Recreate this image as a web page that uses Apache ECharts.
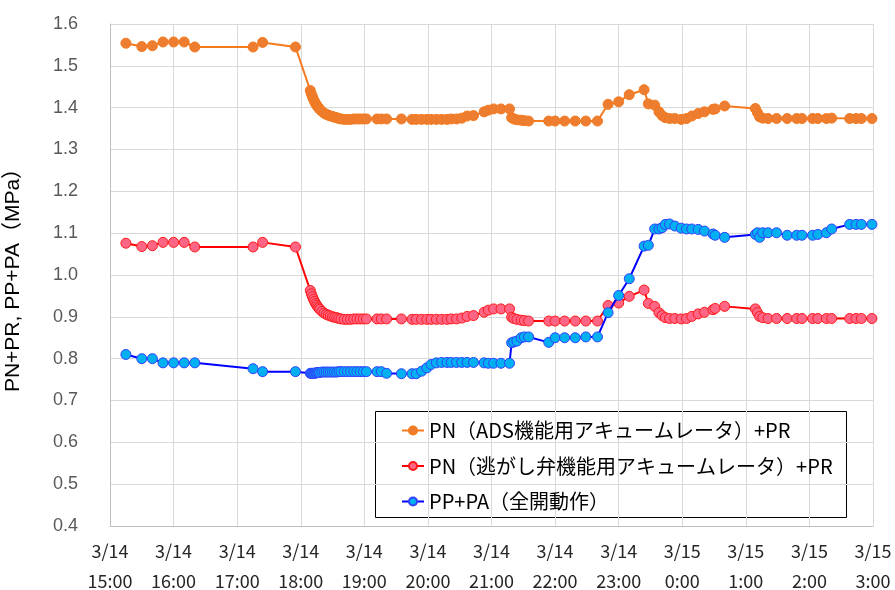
<!DOCTYPE html>
<html>
<head>
<meta charset="utf-8">
<script src="https://cdn.jsdelivr.net/npm/echarts@6/dist/echarts.min.js"></script>
<style>
html,body{margin:0;padding:0;background:#fff;}
#chart{width:895px;height:590px;}
</style>
</head>
<body>
<div id="chart"></div>
<script>
// Minutes after 3/14 15:00
const timesMin = [
  15, 30, 40, 50, 60, 70, 80, 135, 144, 175,
  189, 190, 191, 192, 193, 194, 195, 196, 197, 198, 200, 202, 204, 206, 208, 210, 212, 214, 216, 218,
  221, 224, 227, 230, 233, 236, 239, 242, 252, 256, 261, 275, 285, 289, 294, 299, 303, 308, 313, 318, 322, 327, 332,
  337, 343, 353, 357, 362, 369, 377, 379, 381, 384, 388, 391, 395, 414, 420, 429, 439, 449, 460,
  470, 480, 490, 504, 508, 514, 518, 521, 524, 528, 533, 539, 544, 549, 555, 561, 569, 571, 580,
  609, 611, 613, 616, 621, 629, 639, 648, 653, 663, 668, 676, 681, 698, 704, 709, 719
];
const pnAds = [
  1.554, 1.546, 1.548, 1.557, 1.557, 1.557, 1.545, 1.545, 1.556, 1.545,
  1.441, 1.433, 1.426, 1.420, 1.415, 1.410, 1.406, 1.402, 1.399, 1.396, 1.391, 1.387, 1.384, 1.382, 1.380, 1.379, 1.377, 1.376, 1.374, 1.373,
  1.372, 1.372, 1.372, 1.373, 1.373, 1.373, 1.373, 1.373, 1.373, 1.373, 1.373, 1.373, 1.372, 1.372, 1.372, 1.372, 1.372, 1.372, 1.372, 1.372, 1.373, 1.373, 1.375,
  1.380, 1.381, 1.390, 1.394, 1.397, 1.397, 1.397, 1.376, 1.373, 1.371, 1.370, 1.369, 1.368, 1.368, 1.368, 1.368, 1.368, 1.368, 1.368,
  1.408, 1.414, 1.431, 1.443, 1.409, 1.406, 1.390, 1.381, 1.376, 1.374, 1.374, 1.372, 1.374, 1.380, 1.386, 1.390, 1.396, 1.397, 1.404,
  1.398, 1.388, 1.378, 1.375, 1.374, 1.374, 1.374, 1.374, 1.374, 1.374, 1.374, 1.374, 1.375, 1.374, 1.374, 1.374, 1.374
];
const pnRelief = [
  1.076, 1.068, 1.070, 1.078, 1.078, 1.078, 1.067, 1.067, 1.078, 1.067,
  0.963, 0.955, 0.948, 0.942, 0.937, 0.932, 0.928, 0.924, 0.921, 0.918, 0.913, 0.909, 0.906, 0.904, 0.902, 0.900, 0.899, 0.898, 0.896, 0.895,
  0.894, 0.894, 0.894, 0.895, 0.895, 0.895, 0.895, 0.895, 0.895, 0.895, 0.895, 0.895, 0.894, 0.894, 0.894, 0.894, 0.894, 0.894, 0.894, 0.894, 0.895, 0.895, 0.897,
  0.901, 0.903, 0.911, 0.916, 0.919, 0.919, 0.919, 0.899, 0.896, 0.894, 0.892, 0.891, 0.890, 0.890, 0.890, 0.890, 0.890, 0.890, 0.890,
  0.927, 0.933, 0.949, 0.964, 0.932, 0.925, 0.910, 0.903, 0.898, 0.896, 0.896, 0.895, 0.896, 0.901, 0.907, 0.911, 0.917, 0.920, 0.925,
  0.919, 0.910, 0.901, 0.898, 0.896, 0.896, 0.896, 0.896, 0.896, 0.896, 0.896, 0.896, 0.896, 0.896, 0.896, 0.896, 0.896
];
const ppPa = [
  0.810, 0.800, 0.800, 0.790, 0.790, 0.790, 0.790, 0.776, 0.769, 0.769,
  0.765, 0.765, 0.765, 0.765, 0.765, 0.766, 0.766, 0.767, 0.767, 0.767, 0.768, 0.768, 0.768, 0.768, 0.768, 0.768, 0.768, 0.768, 0.769, 0.769,
  0.769, 0.769, 0.769, 0.769, 0.769, 0.769, 0.769, 0.769, 0.769, 0.769, 0.765, 0.764, 0.764, 0.764, 0.770, 0.778, 0.786, 0.790, 0.791, 0.791, 0.791, 0.791, 0.791,
  0.791, 0.791, 0.790, 0.789, 0.789, 0.789, 0.789, 0.838, 0.840, 0.842, 0.850, 0.852, 0.852, 0.839, 0.850, 0.850, 0.850, 0.852, 0.852,
  0.910, 0.951, 0.991, 1.069, 1.071, 1.110, 1.110, 1.113, 1.121, 1.122, 1.117, 1.112, 1.110, 1.110, 1.109, 1.105, 1.098, 1.095, 1.090,
  1.097, 1.101, 1.090, 1.101, 1.101, 1.101, 1.095, 1.095, 1.095, 1.095, 1.097, 1.101, 1.110, 1.121, 1.121, 1.121, 1.121
];
const seriesNames = [
  'PN（ADS機能用アキュームレータ）+PR',
  'PN（逃がし弁機能用アキュームレータ）+PR',
  'PP+PA（全開動作）'
];
const xTickDates = ['3/14','3/14','3/14','3/14','3/14','3/14','3/14','3/14','3/14','3/15','3/15','3/15','3/15'];
const xTickTimes = ['15:00','16:00','17:00','18:00','19:00','20:00','21:00','22:00','23:00','0:00','1:00','2:00','3:00'];
const yAxisTitle = 'PN+PR, PP+PA（MPa）';

const pair = (vals) => timesMin.map((t, i) => [t, vals[i]]);

const styles = [
  {line: '#F47A1E', fill: '#ED7D31', border: '#F47A1E'},
  {line: '#FF0000', fill: '#FF6685', border: '#FF1A1A'},
  {line: '#0000FF', fill: '#00B0F0', border: '#3340FF'}
];
const valueSets = [pnAds, pnRelief, ppPa];

const chart = echarts.init(document.getElementById('chart'), null, {renderer: 'canvas'});
chart.setOption({
  animation: false,
  backgroundColor: '#ffffff',
  grid: {left: 110, right: 22, top: 24, bottom: 64, containLabel: false, outerBoundsMode: 'none'},
  xAxis: {
    type: 'value', min: 0, max: 720, interval: 60,
    axisLine: {show: true, lineStyle: {color: '#BFBFBF', width: 1}},
    axisTick: {show: false},
    splitLine: {show: true, lineStyle: {color: '#D9D9D9', width: 1}},
    axisLabel: {
      showMinLabel: true, showMaxLabel: true,
      margin: 10,
      color: '#262626',
      fontFamily: '"Noto Sans CJK JP", "Noto Sans", sans-serif',
      fontSize: 18,
      lineHeight: 30,
      formatter: (v) => {
        const i = Math.round(v / 60);
        return xTickDates[i] + '\n' + xTickTimes[i];
      }
    }
  },
  yAxis: {
    type: 'value', min: 0.4, max: 1.6, interval: 0.1,
    name: yAxisTitle,
    nameLocation: 'middle',
    nameGap: 86,
    nameTextStyle: {
      color: '#000000', fontSize: 21,
      fontFamily: '"Liberation Sans", "Noto Sans CJK JP", sans-serif'
    },
    axisLine: {show: true, lineStyle: {color: '#BFBFBF', width: 1}},
    axisTick: {show: false},
    splitLine: {show: true, lineStyle: {color: '#D9D9D9', width: 1}},
    axisLabel: {
      margin: 32,
      color: '#595959',
      fontSize: 18,
      fontFamily: '"Liberation Sans", Arial, sans-serif',
      formatter: (v) => v.toFixed(1)
    }
  },
  legend: {
    orient: 'vertical',
    left: 401, top: 420,
    itemWidth: 22, itemHeight: 10,
    itemGap: 14.5,
    padding: 0,
    textStyle: {
      color: '#000000', fontSize: 20, lineHeight: 21,
      fontFamily: '"Noto Sans CJK JP", sans-serif'
    },
    data: seriesNames
  },
  graphic: [{
    type: 'rect',
    shape: {x: 375.5, y: 411.5, width: 471, height: 106},
    style: {fill: '#ffffff', stroke: '#000000', lineWidth: 1},
    z: 0, zlevel: 0
  }],
  series: valueSets.map((vals, k) => ({
    name: seriesNames[k],
    type: 'line',
    data: pair(vals),
    symbol: 'circle',
    symbolSize: 10,
    showSymbol: true,
    showAllSymbol: true,
    z: 2 + k,
    lineStyle: {color: styles[k].line, width: 2},
    itemStyle: {color: styles[k].fill, borderColor: styles[k].border, borderWidth: 1}
  }))
});
</script>
</body>
</html>
